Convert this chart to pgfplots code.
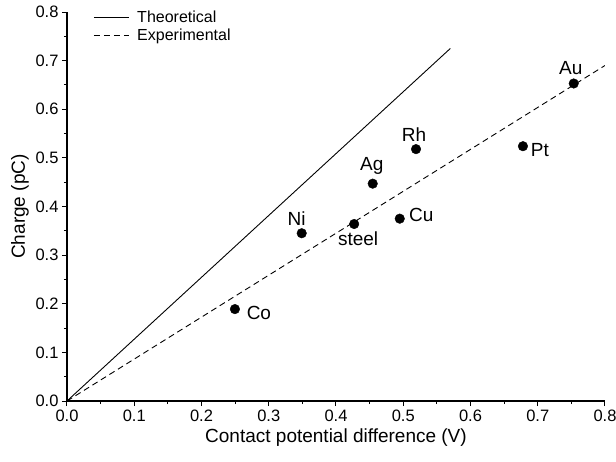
\documentclass[border=0pt]{standalone}
\usepackage{pgfplots}
\pgfplotsset{compat=1.18}
\usepackage{fontspec}
\setmainfont{Liberation Sans}
\begin{document}
\begin{tikzpicture}
\path[use as bounding box] (-67pt,-60pt) rectangle (549pt,401pt);
\begin{axis}[
  scale only axis,
  width=538pt, height=389pt,
  at={(0,0)}, anchor=south west,
  xmin=0, xmax=0.8, ymin=0, ymax=0.8,
  axis lines*=left,
  axis line style={line width=1.1pt},
  xtick distance=0.1, ytick distance=0.1,
  minor tick num=1,
  tick align=outside,
  major tick length=5pt, minor tick length=3pt,
  tick style={line width=1pt, black},
  /pgf/number format/assume math mode=true,
  /pgf/number format/.cd, fixed, fixed zerofill, precision=1, /pgfplots/.cd,
  tick label style={font=\fontsize{16.5}{19}\selectfont},
  label style={font=\fontsize{19}{22}\selectfont},
  xlabel={Contact potential difference (V)},
  ylabel={Charge (pC)},
  xlabel style={at={(axis description cs:0.5,0)}, anchor=center, yshift=-37pt},
  ylabel style={at={(axis description cs:-0.0874,0.5)}, anchor=center},
  legend style={at={(0.043,1.0)}, anchor=north west, draw=none, fill=none,
    font=\fontsize{16}{19}\selectfont, row sep=1pt, yshift=5pt,
    legend cell align=left},
  legend image code/.code={\draw[#1] (0pt,0pt) -- (35pt,0pt); \path (41pt,0pt);},
]
\addplot[black, line width=0.9pt] coordinates {(0,0) (0.57,0.725)};
\addlegendentry{Theoretical}
\addplot[black, line width=0.9pt, dash pattern=on 6pt off 4pt] coordinates {(0,0) (0.8,0.69)};
\addlegendentry{Experimental}
\addplot[only marks, mark=*, mark size=4.8pt, black, forget plot,
  nodes near coords, point meta=explicit symbolic,
  visualization depends on={\thisrow{dx}\as\dx},
  visualization depends on={\thisrow{dy}\as\dy},
  every node near coord/.append style={anchor=center, xshift=\dx pt, yshift=\dy pt,
    font=\fontsize{19}{22}\selectfont, inner sep=0pt}]
  table[x=x, y=y, meta=label] {
x y label dx dy
0.2497 0.189 Co 24 -4
0.349 0.345 Ni -5 15
0.427 0.364 steel 4 -15
0.4546 0.447 Ag -1 18
0.4948 0.375 Cu 21.6 4
0.519 0.518 Rh -2 14.5
0.678 0.524 Pt 17 -4
0.7535 0.653 Au -3 15
};
\end{axis}
\end{tikzpicture}
\end{document}
